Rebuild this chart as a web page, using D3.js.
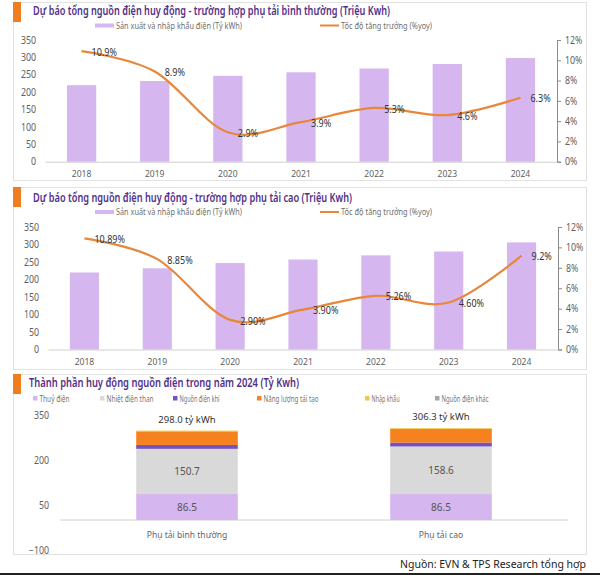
<!DOCTYPE html>
<html>
<head>
<meta charset="utf-8">
<script src="https://cdn.jsdelivr.net/npm/d3@7/dist/d3.min.js"></script>
<style>
  html, body { margin: 0; padding: 0; background: #fff; }
  svg { display: block; font-family: "Noto Sans", "Open Sans", sans-serif; }
</style>
</head>
<body>
<svg id="chart" width="600" height="575"></svg>
<script>
// ---------- DATA ----------
const years = ["2018", "2019", "2020", "2021", "2022", "2023", "2024"];
const supplyNormal = [220, 232, 247, 257, 268, 281, 298];
const growthNormal = [10.9, 8.9, 2.9, 3.9, 5.3, 4.6, 6.3];
const growthNormalLabels = ["10.9%", "8.9%", "2.9%", "3.9%", "5.3%", "4.6%", "6.3%"];
const supplyHigh = [220, 232, 247, 257, 269, 280, 306];
const growthHigh = [10.89, 8.85, 2.90, 3.90, 5.26, 4.60, 9.2];
const growthHighLabels = ["10.89%", "8.85%", "2.90%", "3.90%", "5.26%", "4.60%", "9.2%"];
const leftTicks = [0, 50, 100, 150, 200, 250, 300, 350];
const rightTicks = [0, 2, 4, 6, 8, 10, 12];

const scenarios = ["Phụ tải bình thường", "Phụ tải cao"];
const sources = ["Thuỷ điện", "Nhiệt điện than", "Nguồn điện khí", "Năng lượng tái tạo", "Nhập khẩu", "Nguồn điện khác"];
const hydro = [86.5, 86.5];
const coal = [150.7, 158.6];
const gas = [13.0, 13.0];
const renewable = [45.3, 45.7];
const imports = [2.5, 2.5];
const otherSrc = [0, 0];
const totals = [298.0, 306.3];
const mixTicks = [-100, 50, 200, 350];

const titles = [
  "Dự báo tổng nguồn điện huy động - trường hợp phụ tải bình thường (Triệu Kwh)",
  "Dự báo tổng nguồn điện huy động - trường hợp phụ tải cao (Triệu Kwh)",
  "Thành phần huy động nguồn điện trong năm 2024 (Tỷ Kwh)"
];
const legendBar = "Sản xuất và nhập khẩu điện (Tỷ kWh)";
const legendLine = "Tốc độ tăng trưởng (%yoy)";
const footer = "Nguồn: EVN & TPS Research tổng hợp";

// ---------- STYLE ----------
const C = {
  bar: "#d6b6ee", line: "#e8873a", title: "#52308a", tick: "#5f5f5f",
  label: "#333", border: "#e2e2e2", marker: "#f07d1e", axis: "#d0d0d0",
  src: ["#d6b6ee", "#d9d9d9", "#7552c4", "#f5821f", "#f3c54a", "#a6a6a6"]
};

const svg = d3.select("#chart");

function fitW(sel, w) {
  sel.attr("textLength", w).attr("lengthAdjust", "spacingAndGlyphs");
}
function squeeze(sel, k) {
  sel.each(function () {
    const w = this.getComputedTextLength();
    d3.select(this).attr("textLength", w * k).attr("lengthAdjust", "spacingAndGlyphs");
  });
}

function panelFrame(y0, h, titleText, titleY, titleW, titleX) {
  svg.append("rect").attr("x", 13.5).attr("y", y0 + 0.5).attr("width", 573).attr("height", h)
    .attr("fill", "#fff").attr("stroke", C.border);
  svg.append("rect").attr("x", 13).attr("y", y0).attr("width", 8).attr("height", 20).attr("fill", C.marker);
  const t = svg.append("text").attr("x", titleX).attr("y", titleY).attr("dy", "0.35em")
    .attr("font-size", 13).attr("font-weight", 600).attr("fill", C.title).text(titleText);
  fitW(t, titleW);
}

function comboChart(cfg) {
  const x = d3.scaleBand().domain(years).range([cfg.left, cfg.right]).paddingInner(0.6).paddingOuter(0.3);
  const y = d3.scaleLinear().domain([0, 350]).range([cfg.y0, cfg.y1]);
  const yr = d3.scaleLinear().domain([0, 12]).range([cfg.y0, cfg.y1]);
  const g = svg.append("g");

  // legend
  g.append("rect").attr("x", 95).attr("y", cfg.legY - 2).attr("width", 19).attr("height", 4).attr("fill", C.bar);
  const lt1 = g.append("text").attr("x", 116).attr("y", cfg.legY).attr("dy", "0.35em")
    .attr("font-size", 9).attr("fill", "#707070").text(legendBar);
  fitW(lt1, 126);
  g.append("line").attr("x1", 320).attr("x2", 339).attr("y1", cfg.legY).attr("y2", cfg.legY)
    .attr("stroke", C.line).attr("stroke-width", 2);
  const lt2 = g.append("text").attr("x", 341).attr("y", cfg.legY).attr("dy", "0.35em")
    .attr("font-size", 9).attr("fill", "#707070").text(legendLine);
  fitW(lt2, 91);

  // left axis
  const la = g.append("g").attr("transform", `translate(${cfg.left},0)`)
    .call(d3.axisLeft(y).tickValues(leftTicks).tickSize(0).tickPadding(9));
  la.select(".domain").remove();
  la.selectAll("text").attr("font-size", 10).attr("fill", C.tick).attr("font-family", "Noto Sans");
  squeeze(la.selectAll("text"), 0.88);

  // right axis
  const ra = g.append("g").attr("transform", `translate(${cfg.right},0)`)
    .call(d3.axisRight(yr).tickValues(rightTicks).tickSize(4).tickPadding(4).tickFormat(d => d + "%"));
  ra.select(".domain").attr("stroke", "#8a8a8a");
  ra.selectAll("line").attr("stroke", "#8a8a8a");
  ra.selectAll("text").attr("font-size", 10).attr("fill", C.tick).attr("font-family", "Noto Sans");
  squeeze(ra.selectAll("text"), 0.88);

  // bottom axis
  const ba = g.append("g").attr("transform", `translate(0,${cfg.y0})`)
    .call(d3.axisBottom(x).tickSize(0).tickPadding(9));
  ba.select(".domain").attr("stroke", C.axis);
  ba.selectAll("text").attr("font-size", 9.5).attr("fill", C.tick).attr("font-family", "Noto Sans");
  squeeze(ba.selectAll("text"), 0.9);

  // bars
  g.selectAll(".bar").data(cfg.supply).enter().append("rect")
    .attr("x", (d, i) => x(years[i])).attr("width", x.bandwidth())
    .attr("y", d => y(d)).attr("height", d => y(0) - y(d)).attr("fill", C.bar);

  // line
  const pts = cfg.growth.map((d, i) => [x(years[i]) + x.bandwidth() / 2, yr(d)]);
  g.append("path").attr("d", d3.line().curve(d3.curveCardinal.tension(0))(pts))
    .attr("fill", "none").attr("stroke", C.line).attr("stroke-width", 2.2);

  // labels
  const lb = g.selectAll(".lab").data(cfg.labels).enter().append("text")
    .attr("x", (d, i) => pts[i][0] + 10).attr("y", (d, i) => pts[i][1] + 1).attr("dy", "0.35em")
    .attr("font-size", 10.5).attr("fill", C.label).text(d => d);
  squeeze(lb, 0.86);
}

// Panel 1
panelFrame(2, 178, titles[0], 10, 357, 33);
comboChart({ left: 45, right: 557, y0: 161.7, y1: 40, legY: 25.5,
  supply: supplyNormal, growth: growthNormal, labels: growthNormalLabels });

// Panel 2
panelFrame(187, 182, titles[1], 197, 319, 33);
comboChart({ left: 48, right: 558, y0: 349.5, y1: 227, legY: 212,
  supply: supplyHigh, growth: growthHigh, labels: growthHighLabels });

// Panel 3
panelFrame(374, 180, titles[2], 382, 270, 29);
(function mix() {
  const g = svg.append("g");
  const x = d3.scaleBand().domain(scenarios).range([60, 568]).paddingInner(0.6).paddingOuter(0.3);
  const y = d3.scaleLinear().domain([-100, 350]).range([550, 415]);

  // legend
  const legX = [33, 100, 173, 257, 365, 435];
  const legW = [30, 47, 40, 55, 28, 47];
  sources.forEach((s, i) => {
    g.append("rect").attr("x", legX[i]).attr("y", 396).attr("width", 4.5).attr("height", 4.5).attr("fill", C.src[i]);
    const t = g.append("text").attr("x", legX[i] + 6.5).attr("y", 398.5).attr("dy", "0.35em")
      .attr("font-size", 9).attr("fill", "#777").text(s);
    fitW(t, legW[i]);
  });

  // axis
  const la = g.append("g").attr("transform", "translate(60,0)")
    .call(d3.axisLeft(y).tickValues(mixTicks).tickSize(0).tickPadding(11));
  la.select(".domain").remove();
  la.selectAll("text").attr("font-size", 10).attr("fill", C.tick).attr("font-family", "Noto Sans");
  squeeze(la.selectAll("text"), 0.88);

  g.append("line").attr("x1", 60).attr("x2", 568).attr("y1", y(0)).attr("y2", y(0)).attr("stroke", C.axis);

  const series = [hydro, coal, gas, renewable, imports, otherSrc];
  const rows = scenarios.map((s, i) => {
    const r = { scenario: s };
    sources.forEach((src, k) => r[src] = series[k][i]);
    return r;
  });
  const stacked = d3.stack().keys(sources)(rows);
  stacked.forEach((layer, k) => {
    g.selectAll(null).data(layer).enter().append("rect")
      .attr("x", d => x(d.data.scenario)).attr("width", x.bandwidth())
      .attr("y", d => y(d[1])).attr("height", d => Math.max(0, y(d[0]) - y(d[1])))
      .attr("fill", C.src[k]);
  });
  // segment labels for hydro and coal
  [0, 1].forEach(k => {
    g.selectAll(null).data(stacked[k]).enter().append("text")
      .attr("x", d => x(d.data.scenario) + x.bandwidth() / 2)
      .attr("y", d => (y(d[0]) + y(d[1])) / 2).attr("dy", "0.35em")
      .attr("text-anchor", "middle").attr("font-size", 10).attr("fill", "#555")
      .text(d => (d[1] - d[0]).toFixed(1));
  });
  // totals
  g.selectAll(null).data(totals).enter().append("text")
    .attr("x", (d, i) => x(scenarios[i]) + x.bandwidth() / 2)
    .attr("y", d => y(d) - 11).attr("dy", "0.35em")
    .attr("text-anchor", "middle").attr("font-size", 9.5).attr("fill", "#333")
    .text(d => d.toFixed(1) + " tỷ kWh");
  // category labels
  const cl = g.selectAll(null).data(scenarios).enter().append("text")
    .attr("x", d => x(d) + x.bandwidth() / 2).attr("y", 535).attr("dy", "0.35em")
    .attr("text-anchor", "middle").attr("font-size", 9.5).attr("fill", "#666").text(d => d);
  squeeze(cl, 0.9);
})();

// footer
const ft = svg.append("text").attr("x", 586).attr("y", 564).attr("dy", "0.35em")
  .attr("text-anchor", "end").attr("font-size", 11).attr("fill", "#222").text(footer);
fitW(ft, 186);
svg.append("rect").attr("x", 0).attr("y", 573).attr("width", 600).attr("height", 2).attr("fill", "#222");
</script>
</body>
</html>
